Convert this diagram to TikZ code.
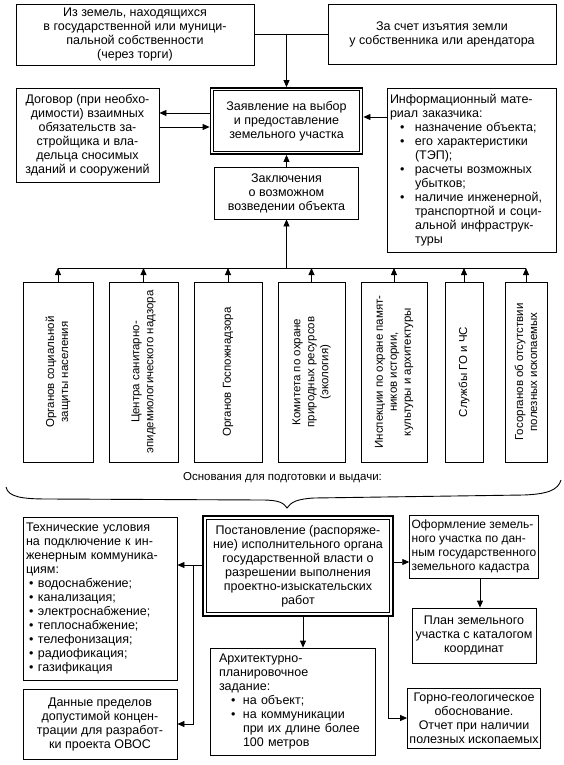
\documentclass[tikz,border=0pt]{standalone}
\usepackage{fontspec}
\setmainfont{Liberation Sans}
\usetikzlibrary{arrows.meta,calc}
\newcommand\bxfont{\fontsize{12.5}{14}\selectfont}
\newcommand\ofrfont{\fontsize{12}{14}\selectfont}
\newcommand\vfont{\fontsize{11.5}{14}\selectfont}
\newcommand\bi{\hspace*{10pt}\makebox[15pt][l]{•}}
\newcommand\bc{\hspace*{25pt}}
\newcommand\ti{\hspace*{3pt}\makebox[9pt][l]{•}}
\newcommand\ai{\hspace*{12pt}\makebox[12pt][l]{•}}
\newcommand\ac{\hspace*{24pt}}
\begin{document}
\begin{tikzpicture}[x=1pt,y=-1pt,
  box/.style={draw, line width=0.8pt, inner sep=2pt, align=center, font=\bxfont},
  lbox/.style={draw, line width=0.8pt, inner xsep=3pt, inner ysep=2pt, align=left, font=\bxfont},
  vbox/.style={draw, line width=0.8pt, inner sep=2pt, align=center, font=\vfont, rotate=90},
  thickbox/.style={draw, line width=1.8pt, inner sep=4pt, align=center, font=\bxfont},
  heavybox/.style={draw, line width=2.6pt, inner sep=6pt, align=center, font=\bxfont},
  ln/.style={line width=0.8pt},
  arr/.style={line width=0.8pt, -{Triangle[length=7pt,width=6pt]}},
]
\useasboundingbox (0,0) rectangle (563,765);

% top row
\node[box, minimum width=238, minimum height=61] (zem) at (135,34.5)
  {Из земель, находящихся\\в государственной или муници-\\пальной собственности\\(через торги)};
\node[box, minimum width=228, minimum height=60] (izy) at (442,34.5)
  {За счет изъятия земли\\у собственника или арендатора};

% application
\node[thickbox, minimum width=152, minimum height=66] (zay) at (286.5,121)
  {Заявление на выбор\\и предоставление\\земельного участка};
\draw[line width=0.8pt] ([shift={(3.7,3.7)}]zay.north west) rectangle ([shift={(-3.7,-3.7)}]zay.south east);

\coordinate (tj) at ($(zem.east)!0.5!(izy.west)$);
\draw[ln] (zem.east) -- (izy.west);
\draw[arr] (tj -| zay.north) -- (zay.north);

\node[box, minimum width=143, minimum height=94] (dog) at (87.5,135)
  {Договор (при необхо-\\димости) взаимных\\обязательств за-\\стройщика и вла-\\дельца сносимых\\зданий и сооружений};
\coordinate (a1) at ($(zay.west)+(0,-8)$);
\coordinate (a2) at ($(zay.west)+(0,6)$);
\draw[arr] (a1) -- (a1 -| dog.east);
\draw[arr] (a2 -| dog.east) -- (a2);

\node[lbox, minimum width=169, minimum height=164, text width=163] (inf) at (471.5,170)
  {Информационный мате-\\риал заказчика:\\\bi назначение объекта;\\\bi его характеристики\\\bc (ТЭП);\\\bi расчеты возможных\\\bc убытков;\\\bi наличие инженерной,\\\bc транспортной и соци-\\\bc альной инфраструк-\\\bc туры};
\coordinate (a3) at ($(zay.east)+(0,-4)$);
\draw[arr] (a3 -| inf.west) -- (a3);

\node[box, minimum width=144, minimum height=52] (zak) at (286.5,193)
  {Заключения\\о возможном\\возведении объекта};
\draw[arr] (zak.north) -- (zay.south);

% bus and vertical boxes
\coordinate (bus) at (286.5,268);
\draw[arr] (bus) -- (zak.south);

\node[vbox, minimum width=180, minimum height=70] (v1) at (58,372)
  {Органов социальной\\защиты населения};
\node[vbox, minimum width=180, minimum height=69] (v2) at (143.5,372)
  {Центра санитарно-\\эпидемиологического надзора};
\node[vbox, minimum width=180, minimum height=68] (v3) at (228,372)
  {Органов Госпожнадзора};
\node[vbox, minimum width=180, minimum height=67] (v4) at (311.5,372)
  {Комитета по охране\\природных ресурсов\\(экология)};
\node[vbox, minimum width=180, minimum height=66] (v5) at (394,372)
  {Инспекции по охране памят-\\ников истории,\\культуры и архитектуры};
\node[vbox, minimum width=180, minimum height=38] (v6) at (464,372)
  {Службы ГО и ЧС};
\node[vbox, minimum width=180, minimum height=42] (v7) at (526,372)
  {Госорганов об отсутствии\\полезных ископаемых};

\draw[ln] (v1.east |- bus) -- (v7.east |- bus);
\foreach \v in {v1,v2,v3,v4,v5,v6,v7}
  \draw[arr] (\v.east) -- (\v.east |- bus);

% caption and brace
\node[font=\vfont, inner sep=0pt] (osn) at (282.5,478) {Основания для подготовки и выдачи:};
\draw[line width=0.9pt] (6,487) .. controls (8,497) and (22,499) .. (48,499)
  -- (262,500) .. controls (279,500) and (284,503) .. (287,508)
  .. controls (291,502) and (297,499) .. (314,498)
  -- (524,495) .. controls (548,494) and (558,490) .. (561,480);

% bottom section
\node[heavybox, minimum width=190, minimum height=100] (post) at (298,566)
  {Постановление (распоряже-\\ние) исполнительного органа\\государственной власти о\\разрешении выполнения\\проектно-изыскательских\\работ};
\draw[line width=1.2pt] ([shift={(5,5)}]post.north west) rectangle ([shift={(-5,-5)}]post.south east);

\node[lbox, minimum width=154, minimum height=163, text width=148] (tech) at (100,598.5)
  {Технические условия\\на подключение к ин-\\женерным коммуника-\\циям:\\\ti водоснабжение;\\\ti канализация;\\\ti электроснабжение;\\\ti теплоснабжение;\\\ti телефонизация;\\\ti радиофикация;\\\ti газификация};
\node[box, minimum width=154, minimum height=70] (dan) at (100,724)
  {Данные пределов\\допустимой концен-\\трации для разработ-\\ки проекта ОВОС};

\node[box, align=left, font=\ofrfont, minimum width=124, minimum height=63] (ofr) at (474,546.5)
  {Оформление земель-\\ного участка по дан-\\ным государственного\\земельного кадастра};
\node[box, minimum width=124, minimum height=55] (plan) at (474,635.5)
  {План земельного\\участка с каталогом\\координат};
\node[box, minimum width=124, minimum height=60] (gorn) at (474,718)
  {Горно-геологическое\\обоснование.\\Отчет при наличии\\полезных ископаемых};
\node[lbox, inner xsep=9pt, minimum width=165, minimum height=107, text width=147] (arch) at (292.5,701.5)
  {Архитектурно-\\планировочное\\задание:\\\ai на объект;\\\ai на коммуникации\\\ac при их длине более\\\ac 100 метров};

\coordinate (p1) at ($(post.west)+(0,-1)$);
\draw[arr] (p1) -- (p1 -| tech.east);
\coordinate (lj) at (193,565);
\draw[arr] (lj) |- (dan.east);
\coordinate (p3) at ($(post.east)+(0,-4)$);
\draw[arr] (p3) -- (p3 -| ofr.west);
\coordinate (o1) at ($(ofr.south)+(6,0)$);
\draw[arr] (o1) -- (o1 |- plan.north);
\coordinate (p4) at ($(post.south)+(5,0)$);
\draw[arr] (p4) -- (p4 |- arch.north);
\coordinate (p5) at ($(post.south east)+(-6,0)$);
\draw[arr] (p5) |- (gorn.west);
\end{tikzpicture}
\end{document}
